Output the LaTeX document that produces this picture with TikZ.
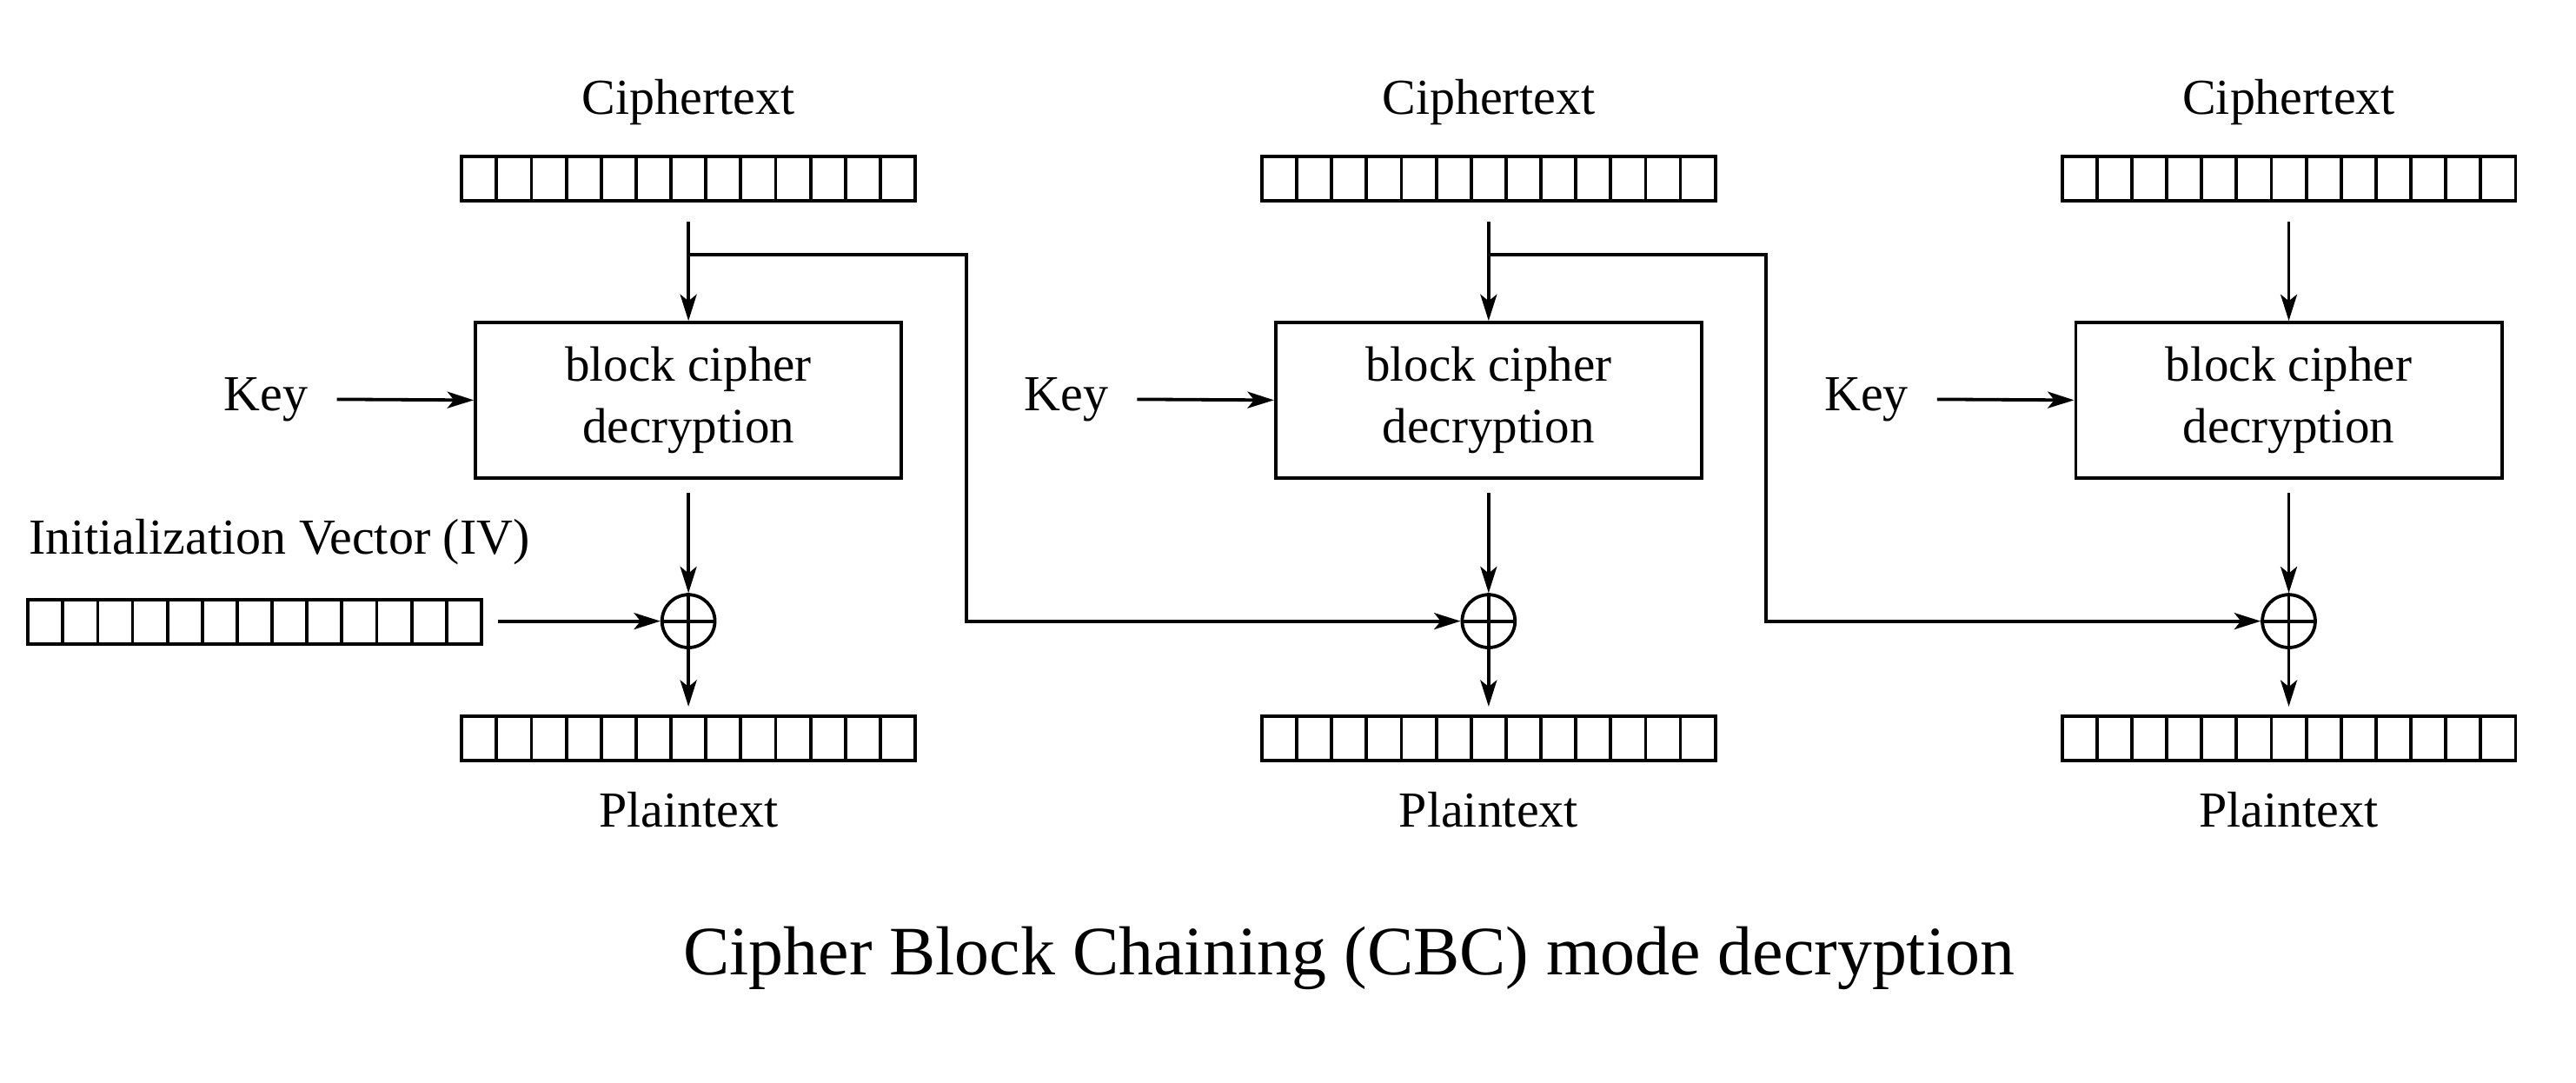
\documentclass[tikz,border=0pt]{standalone}
\usepackage{fontspec}
\setmainfont{Liberation Serif}
\usetikzlibrary{arrows.meta}
\begin{document}
\begin{tikzpicture}[x=0.995pt,y=-0.995pt,line width=2pt,
  arr/.style={-{Stealth[length=16pt,width=10pt,inset=4pt]}},
  lbl/.style={font=\fontsize{30.5}{36}\selectfont,inner sep=0pt},
  box/.style={draw,minimum width=258pt,minimum height=94pt,align=center,font=\fontsize{30}{37}\selectfont},
  xor/.style={draw,circle,minimum size=32pt,inner sep=0pt,line width=2pt}]
\useasboundingbox (0,0) rectangle (1567.8,659);
\newcommand{\regx}[2]{% left x, top y
  \draw (#1,#2) rectangle ++(276,27);
  \foreach \k in {1,...,12} \draw (#1+\k*21.23,#2) -- ++(0,27);}
\foreach \i/\cx in {1/419,2/906,3/1393}{
  \node[lbl] (ct\i) at (\cx,62) {Ciphertext};
  \regx{\cx-138}{95}
  \coordinate (ctb\i) at (\cx,135);
  \node[box] (bc\i) at (\cx,243.5) {block cipher\\decryption};
  \node[lbl] (key\i) at (\cx-257,243) {Key};
  \draw[arr] (\cx-214,243) -- (bc\i.west);
  \draw[arr] (ctb\i) -- (bc\i.north);
  \node[xor] (x\i) at (\cx,378) {};
  \draw (x\i.north) -- (x\i.south) (x\i.west) -- (x\i.east);
  \draw[arr] (bc\i.south) ++(0,8) -- (x\i.north);
  \regx{\cx-138}{436}
  \coordinate (pt\i) at (\cx,430);
  \draw[arr] (x\i.south) -- (pt\i);
  \node[lbl] (pl\i) at (\cx,493) {Plaintext};
}
\foreach \i/\j/\cx in {1/2/419,2/3/906}{
  \draw[arr] (\cx,155) -- (\cx+169,155) -- (\cx+169,378) -- (x\j.west);
}
\node[lbl] (ivl) at (170,330) {Initialization Vector (IV)};
\regx{17}{365}
\coordinate (ivr) at (303,378);
\draw[arr] (ivr) -- (x1.west);
\node[font=\fontsize{42}{50}\selectfont,inner sep=0pt] (title) at (821,583) {Cipher Block Chaining (CBC) mode decryption};
\end{tikzpicture}
\end{document}
